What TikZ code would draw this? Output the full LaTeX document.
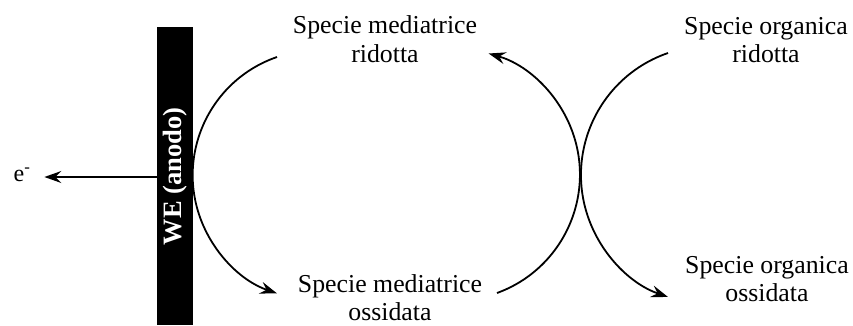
\documentclass[tikz,border=0pt]{standalone}
\usepackage{fontspec}
\setmainfont{Liberation Serif}
\usepackage{tikz}
\usetikzlibrary{arrows.meta}

\tikzset{
  specieLabel/.style={align=center, inner sep=0pt, font=\fontsize{25.8}{28.5}\selectfont},
  flowLine/.style={line width=1.8pt, -{Stealth[length=17pt,width=12pt,inset=6pt]}}
}

\begin{document}
\begin{tikzpicture}[x=1pt,y=-1pt]
\useasboundingbox (0,0) rectangle (853,325);
% electrode
\node[fill=black, inner sep=0pt, minimum width=297.7pt, minimum height=35.4pt, rotate=90,
  text=white, font=\fontsize{26.5}{28}\selectfont\bfseries] (we) at (175,176.2) {WE (anodo)};
\node[inner sep=0pt, outer xsep=14pt, font=\fontsize{24}{26}\selectfont] (eminus) at (22,175) {e\textsuperscript{-}};
\draw[flowLine] (we.north |- 0,177) -- (eminus.east |- 0,177);
% species
\node[specieLabel] (medRid) at (385,39) {Specie mediatrice\\ridotta};
\node[specieLabel] (medOss) at (390,297.5) {Specie mediatrice\\ossidata};
\node[specieLabel] (orgRid) at (766,40) {Specie organica\\ridotta};
\node[specieLabel] (orgOss) at (767,279) {Specie organica\\ossidata};
% arcs
\coordinate (ridStart) at (277,57);
\coordinate (ossStart) at (497,293);
\coordinate (orgStart) at (668,53);
\draw[flowLine] (ridStart) arc[start angle=251, end angle=109, radius=125];
\draw[flowLine] (ossStart) arc[start angle=70, end angle=-74, radius=126];
\draw[flowLine] (orgStart) arc[start angle=251, end angle=109, radius=129];
\end{tikzpicture}
\end{document}
